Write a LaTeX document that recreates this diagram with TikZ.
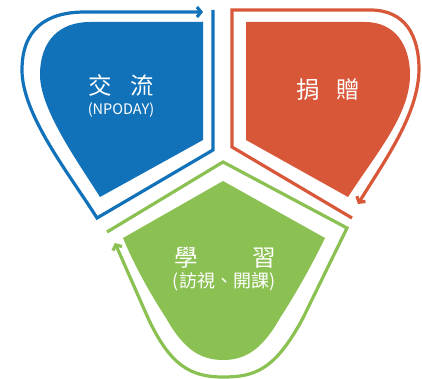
\documentclass[tikz,border=0pt]{standalone}
\usepackage{fontspec}
\usepackage{tikz}
\usetikzlibrary{arrows.meta,positioning,calc}
\newfontfamily\cjk{Noto Sans CJK TC}
\definecolor{talkblue}{RGB}{17,114,186}
\definecolor{givered}{RGB}{216,87,57}
\definecolor{learngreen}{RGB}{139,193,82}

\begin{document}
\begin{tikzpicture}[x=1pt, y=-1pt, >={Straight Barb[length=4pt,width=10pt]},
  rim/.style={line width=3.2pt, line join=miter},
  title/.style={text=white, inner sep=0pt, font=\cjk\fontsize{23.5}{25}\selectfont},
  sub/.style={text=white, inner sep=0pt, font=\cjk\fontsize{14.5}{16}\selectfont}]
  \useasboundingbox (0,0) rectangle (422,379);
  % blue part
  \fill[talkblue] (203,22) -- (203,140) -- (100,197) .. controls (80,165) and (40,110) .. (40,75)
    .. controls (40,40) and (60,22) .. (90,22) -- cycle;
  \draw[rim, talkblue, ->] (213,10) -- (213,150) -- (97,218) .. controls (70,175) and (22,115) .. (22,70)
    .. controls (22,30) and (45,12) .. (85,12) -- (203,12);
  % red part
  \fill[givered] (246,22) -- (365,22) .. controls (395,22) and (410,45) .. (410,75)
    .. controls (410,115) and (375,155) .. (348,197) -- (246,140) -- cycle;
  \draw[rim, givered, ->] (352,218) -- (232,147) -- (232,10) -- (370,10) .. controls (405,10) and (419,35) .. (419,70)
    .. controls (418,115) and (385,160) .. (358,204);
  % green part
  \fill[learngreen] (223,181) -- (325,238) .. controls (312,265) and (295,295) .. (280,318)
    .. controls (262,350) and (245,360) .. (223,360) .. controls (201,360) and (184,350) .. (166,318)
    .. controls (151,295) and (134,265) .. (123,238) -- cycle;
  \draw[rim, learngreen, ->] (107,232) -- (223,162) -- (347,228) -- (303,318) .. controls (275,370) and (255,377) .. (223,377)
    .. controls (190,377) and (170,365) .. (148,318) -- (115,243);
  % texts
  \node[title] (talk) at (121,85) {交\hspace{0.8em}流};
  \node[sub] (talksub) [below=6pt of talk] {(NPODAY)};
  \node[title] (give) at (328,90) {捐\hspace{0.7em}贈};
  \node[title] (learn) at (225,258) {學\hspace{2.3em}習};
  \node[sub, font=\cjk\fontsize{18}{19}\selectfont] (learnsub) at (224,282) {(訪視、開課)};
\end{tikzpicture}
\end{document}
